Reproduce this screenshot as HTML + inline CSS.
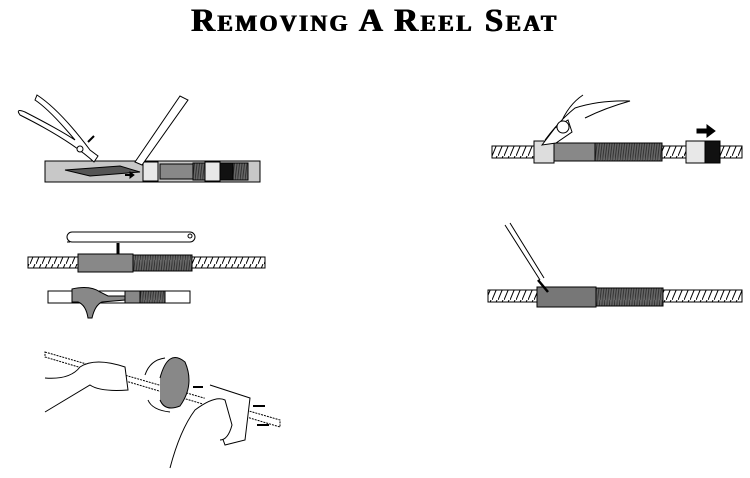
<!DOCTYPE html>
<html><head><style>
body{margin:0;background:#fff;width:750px;height:478px;overflow:hidden}
h1{position:absolute;left:0;width:750px;top:3px;margin:0;text-align:center;font:bold 33px "Liberation Serif",serif;font-variant:small-caps;letter-spacing:2.5px;color:#000;text-shadow:0.6px 0 0 #000,-0.6px 0 0 #000}
svg{position:absolute;left:0;top:0}
</style></head><body>
<h1>Removing A Reel Seat</h1>
<svg width="750" height="478" viewBox="0 0 750 478">
<defs>
<pattern id="h" width="6" height="12" patternUnits="userSpaceOnUse"><rect width="6" height="12" fill="#fff"/><line x1="0" y1="12" x2="5" y2="0" stroke="#000" stroke-width="1"/></pattern>
<pattern id="t" width="2.5" height="20" patternUnits="userSpaceOnUse"><rect width="2.5" height="20" fill="#666"/><line x1="0" y1="20" x2="2.5" y2="0" stroke="#333" stroke-width="1"/></pattern>
</defs>
<g stroke="#000" stroke-width="1">
<!-- panel 1 -->
<rect x="45" y="161" width="215" height="21" fill="#c8c8c8"/>
<path d="M65 170 L120 166 L140 172 L90 176 Z" fill="#555"/>
<rect x="143" y="162" width="15" height="19" fill="#e8e8e8"/>
<rect x="160" y="164" width="33" height="15" fill="#888"/>
<rect x="193" y="163" width="12" height="17" fill="url(#t)"/>
<rect x="205" y="162" width="15" height="19" fill="#e8e8e8"/>
<rect x="220" y="163" width="13" height="17" fill="#111"/>
<rect x="233" y="163" width="15" height="17" fill="url(#t)"/>
<path d="M125 175 h8" stroke-width="2"/>
<path d="M134 175 l-4 -3 v6 z" fill="#000"/>
<path d="M135 162 L180 96 L188 100 L142 165 Z" fill="#fff"/>
<path d="M37 95 Q60 110 90 150 L98 156 L94 162 Q70 140 20 115 Q15 108 25 112 Q60 130 75 140 Q50 110 35 100 Z" fill="#fff"/>
<circle cx="80" cy="149" r="3" fill="#fff"/>
<path d="M88 142 l6 -6" stroke-width="2"/>
<!-- panel 2 -->
<rect x="67" y="232" width="128" height="10" rx="5" fill="#fff"/>
<circle cx="190" cy="236" r="2" fill="#fff"/>
<path d="M67 242 h120" stroke-dasharray="3 2"/>
<path d="M118 243 v13" stroke-width="3"/>
<path d="M113 254 l5 6 l5 -6 z" fill="#000"/>
<rect x="28" y="257" width="237" height="11" fill="url(#h)"/>
<rect x="78" y="254" width="55" height="18" fill="#888"/>
<rect x="133" y="255" width="59" height="16" fill="url(#t)"/>
<rect x="48" y="291" width="142" height="12" fill="#fff"/>
<path d="M72 289 Q90 285 100 292 L108 296 L125 296 L125 300 L102 302 Q95 305 92 318 L88 318 Q86 305 78 302 L72 302 Z" fill="#888"/>
<rect x="125" y="291" width="15" height="12" fill="#888"/>
<rect x="140" y="291" width="25" height="12" fill="url(#t)"/>
<!-- right top -->
<rect x="492" y="146" width="250" height="12" fill="url(#h)"/>
<rect x="534" y="141" width="20" height="22" fill="#ddd"/>
<rect x="554" y="143" width="41" height="18" fill="#888"/>
<rect x="595" y="143" width="67" height="18" fill="url(#t)"/>
<rect x="686" y="141" width="19" height="22" fill="#e8e8e8"/>
<rect x="705" y="141" width="15" height="22" fill="#111"/>
<path d="M697 129 h10 v-4 l8 6 l-8 6 v-4 h-10 z" fill="#000"/>
<path d="M545 140 Q560 120 575 108 Q600 100 630 101 Q605 108 585 118 M560 125 Q568 105 583 95" fill="none"/>
<path d="M542 145 L555 128 L568 120 L572 132 L556 143 Z" fill="#fff"/>
<circle cx="563" cy="127" r="6" fill="#fff"/>
<!-- right bottom -->
<rect x="488" y="290" width="254" height="12" fill="url(#h)"/>
<rect x="537" y="287" width="59" height="20" fill="#777"/>
<rect x="596" y="288" width="67" height="18" fill="url(#t)"/>
<path d="M505 225 L540 280 M510 223 L544 278" fill="none"/>
<path d="M538 280 L548 292" stroke-width="2.5"/>
<!-- bottom panel -->
<path d="M45 352 L280 420 L280 427 L45 357 Z" fill="#fff" stroke="#000" stroke-dasharray="2 1"/>
<path d="M160 378 Q168 348 185 362 Q195 385 180 406 Q165 412 160 400" fill="#888"/>
<path d="M145 375 Q150 360 165 358 M148 400 Q152 410 170 412" fill="none"/>
<path d="M45 378 Q70 380 80 367 Q95 357 125 367 L128 390 Q100 392 90 385 L45 412" fill="#fff"/>
<path d="M210 385 L250 398 L245 440 L225 445 Q215 415 200 410" fill="#fff"/>
<path d="M170 468 Q180 430 195 410 Q215 395 225 400 L232 425 Q228 440 220 440" fill="#fff"/>
<path d="M193 387 h10 M253 406 h12 M257 425 h12" stroke-width="2"/>
</g>
</svg>
</body></html>
